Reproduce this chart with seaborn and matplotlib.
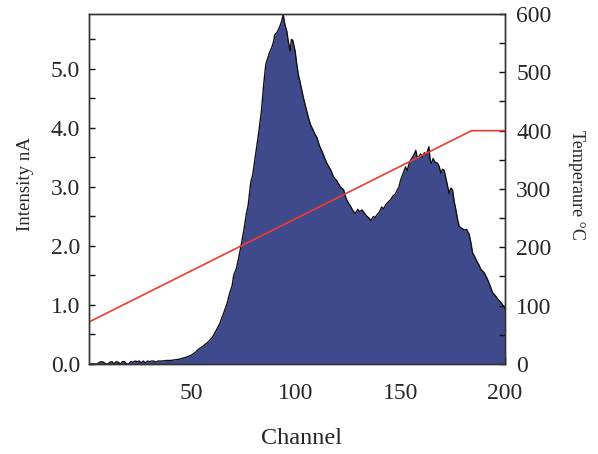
import numpy as np
import pandas as pd
import matplotlib
matplotlib.use("Agg")
import matplotlib.pyplot as plt
import seaborn as sns
from matplotlib.ticker import MultipleLocator

# ---- data ----
channel = [1, 2, 3, 4, 5, 6, 7, 8, 9, 10, 11, 12, 13, 14, 15, 16, 17, 18, 19, 20,
           21, 22, 23, 24, 25, 26, 27, 28, 29, 30, 31, 32, 33, 34, 36, 38, 40, 42,
           44, 46, 48, 50, 52, 53, 55.5, 57.9, 60, 61.1, 62, 63.5, 65, 66, 67, 68.3,
           69.5, 70.2, 71.5, 72.5, 73.6, 75, 76.3, 77.1, 78.4, 79.3, 80.3, 81.3,
           82.3, 83.5, 84.6, 85.6, 86.5, 87.4, 88.4, 89.2, 89.9, 91, 92.3, 93.1,
           93.9, 94.7, 95.6, 96.4, 97.2, 97.8, 98.5, 99.1, 99.6, 100.3, 101.1,
           102.3, 103.5, 104.7, 105.9, 107, 108, 109, 110, 111.2, 112.5, 113.6,
           114.8, 116.4, 118, 119.6, 121.2, 122.8, 124, 125.2, 126, 127.2, 128.4,
           129.5, 130.5, 131.6, 132.8, 134, 135, 135.9, 137, 137.8, 138.8, 140,
           141, 142, 143, 144, 145.2, 146.5, 147.5, 148.5, 149.3, 150, 151, 152.4,
           153.3, 154, 154.8, 155.7, 156.5, 157.3, 158, 158.8, 159.6, 160.5, 161.4,
           162.4, 163.6, 164.2, 164.8, 165.6, 166.5, 167.7, 168.5, 169.3, 170.1,
           170.9, 172, 173.3, 174.1, 174.9, 175.7, 176.5, 177.3, 178.1, 179.3,
           180.5, 181.7, 182.9, 183.7, 184.5, 185.5, 186.5, 187.5, 188.5, 190,
           191.7, 192.9, 194.1, 195.5, 197, 198.1, 199.3, 200]
intensity = [0, 0, 0, 0, 0, 0.03, 0.04, 0.03, 0, 0, 0.03, 0.04, 0, 0.04, 0.03, 0,
             0.04, 0.04, 0, 0, 0.04, 0.03, 0.05, 0.04, 0.05, 0.02, 0.05, 0.02, 0.05,
             0.04, 0.05, 0.05, 0.03, 0.05, 0.05, 0.06, 0.06, 0.07, 0.08, 0.1, 0.12,
             0.15, 0.2, 0.24, 0.3, 0.37, 0.45, 0.52, 0.58, 0.68, 0.82, 0.92, 1.02,
             1.2, 1.33, 1.5, 1.62, 1.78, 1.98, 2.25, 2.55, 2.68, 3.08, 3.2, 3.45,
             3.7, 3.95, 4.29, 4.75, 5.08, 5.18, 5.28, 5.36, 5.45, 5.58, 5.62, 5.72,
             5.8, 5.92, 5.75, 5.64, 5.45, 5.3, 5.5, 5.48, 5.38, 5.3, 5.1, 4.91,
             4.72, 4.52, 4.35, 4.18, 4.05, 3.98, 3.9, 3.84, 3.7, 3.6, 3.5, 3.4,
             3.3, 3.17, 3.1, 3.0, 2.95, 2.8, 2.72, 2.68, 2.6, 2.55, 2.62, 2.58,
             2.61, 2.55, 2.5, 2.47, 2.43, 2.5, 2.48, 2.53, 2.58, 2.66, 2.63, 2.7,
             2.74, 2.78, 2.85, 2.88, 2.95, 3.0, 3.11, 3.2, 3.34, 3.28, 3.38, 3.45,
             3.5, 3.55, 3.62, 3.5, 3.51, 3.56, 3.5, 3.58, 3.55, 3.68, 3.45, 3.4,
             3.48, 3.42, 3.4, 3.35, 3.23, 3.3, 3.28, 3.1, 2.89, 2.98, 2.95, 2.75,
             2.61, 2.45, 2.33, 2.3, 2.27, 2.28, 2.19, 2.05, 1.88, 1.82, 1.74, 1.68,
             1.6, 1.55, 1.43, 1.32, 1.21, 1.15, 1.08, 1.04, 0.98, 0.93]

temp_channel = [1, 184, 200]
temperature = [72, 400, 400]

x_ticks = [50, 100, 150, 200]
left_ticks = [0.0, 1.0, 2.0, 3.0, 4.0, 5.0]
right_ticks = [0, 100, 200, 300, 400, 500, 600]

df = pd.DataFrame({"Channel": channel, "Intensity": intensity})
dft = pd.DataFrame({"Channel": temp_channel, "Temperature": temperature})

# ---- style ----
sns.set_style("ticks")
plt.rcParams["font.family"] = ["Liberation Serif", "DejaVu Serif"]

fig = plt.figure(figsize=(5.98, 4.54), dpi=100)
ax = fig.add_axes([89 / 598, 1 - 364 / 454, 416 / 598, 350 / 454])
ax2 = ax.twinx()

fill_col = "#3f4a8c"
ax.fill_between(df["Channel"], 0, df["Intensity"], color=fill_col, lw=0, zorder=2)
sns.lineplot(data=df, x="Channel", y="Intensity", ax=ax, color="#111111",
             lw=1.0, zorder=3, estimator=None, sort=False)

sns.lineplot(data=dft, x="Channel", y="Temperature", ax=ax2, color="#ee3a30",
             lw=1.2, estimator=None, sort=False)

ax.set_xlim(1, 200)
ax.set_ylim(0, 5.93)
ax2.set_ylim(0, 600)

ax.set_xticks(x_ticks)
ax.set_xticklabels([str(t) for t in x_ticks])
ax.set_yticks(left_ticks)
ax.set_yticklabels([f"{t:.1f}" for t in left_ticks])
ax.yaxis.set_minor_locator(MultipleLocator(0.5))
ax2.set_yticks(right_ticks)
ax2.set_yticklabels([str(t) for t in right_ticks])
ax2.yaxis.set_minor_locator(MultipleLocator(50))

spine_col = "#333333"
for a in (ax, ax2):
    for s in a.spines.values():
        s.set_color(spine_col)
        s.set_linewidth(1.0)
        s.set_visible(True)

ax.tick_params(axis="x", which="major", direction="in", length=5, width=1,
               color="#111111", labelsize=17, pad=14, top=False)
ax.tick_params(axis="y", which="both", direction="in", length=4, width=1,
               color="#111111", labelsize=17, pad=6.5, right=False)
ax2.tick_params(axis="y", which="both", direction="in", length=4, width=1,
                color="#111111", labelsize=17, pad=8)

ax.set_xlabel("Channel", fontsize=17.5)
ax.set_ylabel("Intensity nA", fontsize=13.6)
ax2.set_ylabel("Temperaure \u00b0C", fontsize=13, rotation=270)

ax.xaxis.set_label_coords((302 - 89) / 416, (364 - 438) / 350)
ax.xaxis.label.set_va("center")
ax.yaxis.set_label_coords((25 - 89) / 416, (364 - 184) / 350)
ax.yaxis.label.set_va("center")
ax.yaxis.label.set_ha("center")
ax2.yaxis.set_label_coords((577 - 89) / 416, (364 - 185) / 350)
ax2.yaxis.label.set_va("center")
ax2.yaxis.label.set_ha("center")

fig.savefig("out.png", dpi=100)
